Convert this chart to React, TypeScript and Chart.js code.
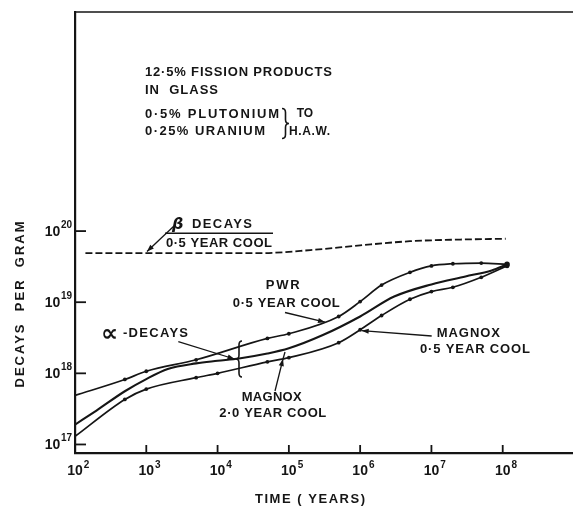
import React, { useEffect, useRef } from "react";
import { Chart, registerables } from "chart.js";

Chart.register(...registerables);

// α-decays per gram of glass vs. time (years)
const PWR_TIME = [1e2, 5e2, 1e3, 5e3, 5e4, 1e5, 5e5, 1e6, 2e6, 5e6, 1e7, 2e7, 5e7, 1.15e8];
const PWR_ALPHA = [4.9e17, 8.2e17, 1.07e18, 1.55e18, 3.1e18, 3.6e18, 6.3e18, 1.02e19, 1.74e19, 2.63e19, 3.24e19, 3.47e19, 3.55e19, 3.4e19];

const MAGNOX05_TIME = [1e2, 2e2, 5e2, 1e3, 2e3, 5e3, 1e4, 2e4, 5e4, 1e5, 3e5, 1e6, 3e6, 1e7, 3e7, 7e7, 1.15e8];
const MAGNOX05_ALPHA = [1.9e17, 3.0e17, 5.6e17, 8.3e17, 1.15e18, 1.38e18, 1.5e18, 1.62e18, 1.9e18, 2.25e18, 3.45e18, 6.3e18, 1.2e19, 1.78e19, 2.3e19, 2.8e19, 3.4e19];

const MAGNOX20_TIME = [1e2, 5e2, 1e3, 5e3, 1e4, 5e4, 1e5, 5e5, 1e6, 2e6, 5e6, 1e7, 2e7, 5e7, 1.15e8];
const MAGNOX20_ALPHA = [1.3e17, 4.3e17, 6.0e17, 8.7e17, 1.0e18, 1.45e18, 1.66e18, 2.7e18, 4.1e18, 6.5e18, 1.1e19, 1.41e19, 1.62e19, 2.24e19, 3.24e19];

// β-decays, 0.5 year cool
const BETA_TIME = [1.4e2, 1e3, 1e4, 4e4, 2e5, 1e6, 5e6, 2.5e7, 1.1e8];
const BETA_DECAYS = [4.9e19, 4.9e19, 4.9e19, 4.9e19, 5.4e19, 6.3e19, 7.2e19, 7.6e19, 7.8e19];

const X_TICKS = [1e2, 1e3, 1e4, 1e5, 1e6, 1e7, 1e8];
const Y_TICKS = [1e17, 1e18, 1e19, 1e20];
const X_MIN = 1e2;
const X_MAX = 1e9;
const Y_MIN = Math.pow(10, 16.88);
const Y_MAX = Math.pow(10, 23.08);

const FONT = "'Liberation Sans', 'DejaVu Sans', Arial, sans-serif";
const SYMBOL_FONT = "'DejaVu Sans', 'Liberation Sans', sans-serif";
const INK = "#151515";

const toPoints = (xs: number[], ys: number[]) => xs.map((x, i) => ({ x, y: ys[i] }));

// Draw text stretched to a given width by letter spacing
function fitText(ctx: CanvasRenderingContext2D, text: string, x: number, y: number, width: number, size: number, family = FONT) {
  ctx.font = `bold ${size}px ${family}`;
  (ctx as any).letterSpacing = "0px";
  const natural = ctx.measureText(text).width;
  const n = Array.from(text).length;
  const ls = n > 1 ? (width - natural) / (n - 1) : 0;
  (ctx as any).letterSpacing = `${ls}px`;
  ctx.textAlign = "left";
  ctx.textBaseline = "alphabetic";
  ctx.fillText(text, x, y);
  (ctx as any).letterSpacing = "0px";
}

function arrow(ctx: CanvasRenderingContext2D, x1: number, y1: number, x2: number, y2: number, head = true) {
  ctx.beginPath();
  ctx.moveTo(x1, y1);
  ctx.lineTo(x2, y2);
  ctx.stroke();
  if (!head) return;
  const a = Math.atan2(y2 - y1, x2 - x1);
  const L = 7;
  const W = 2.6;
  ctx.beginPath();
  ctx.moveTo(x2, y2);
  ctx.lineTo(x2 - L * Math.cos(a) + W * Math.sin(a), y2 - L * Math.sin(a) - W * Math.cos(a));
  ctx.lineTo(x2 - L * Math.cos(a) - W * Math.sin(a), y2 - L * Math.sin(a) + W * Math.cos(a));
  ctx.closePath();
  ctx.fill();
}

// Curly brace: tips at x, point at x + w (w < 0 opens to the right)
function brace(ctx: CanvasRenderingContext2D, x: number, yTop: number, yBot: number, w: number) {
  const mid = (yTop + yBot) / 2;
  const r = Math.min(4, (yBot - yTop) / 5);
  const s = x + w / 2;
  ctx.beginPath();
  ctx.moveTo(x, yTop);
  ctx.quadraticCurveTo(s, yTop, s, yTop + r);
  ctx.lineTo(s, mid - r);
  ctx.quadraticCurveTo(s, mid, x + w, mid);
  ctx.quadraticCurveTo(s, mid, s, mid + r);
  ctx.lineTo(s, yBot - r);
  ctx.quadraticCurveTo(s, yBot, x, yBot);
  ctx.stroke();
}

const decorations = {
  id: "decorations",
  afterDraw(chart: any) {
    const { ctx, chartArea, scales } = chart;
    const xs = scales.x;
    const ys = scales.y;
    ctx.save();
    ctx.strokeStyle = INK;
    ctx.fillStyle = INK;
    ctx.lineCap = "butt";

    // top frame line
    ctx.lineWidth = 1.6;
    ctx.beginPath();
    ctx.moveTo(chartArea.left, chartArea.top);
    ctx.lineTo(chartArea.right, chartArea.top);
    ctx.stroke();

    // inward tick marks and power-of-ten labels
    ctx.lineWidth = 1.8;
    X_TICKS.forEach((v) => {
      const px = xs.getPixelForValue(v);
      ctx.beginPath();
      ctx.moveTo(px, chartArea.bottom);
      ctx.lineTo(px, chartArea.bottom - 8);
      ctx.stroke();
      const exp = String(Math.round(Math.log10(v)));
      ctx.font = `bold 14px ${FONT}`;
      ctx.textAlign = "center";
      ctx.fillText("10", px, chartArea.bottom + 22);
      const w = ctx.measureText("10").width;
      ctx.font = `bold 10px ${FONT}`;
      ctx.textAlign = "left";
      ctx.fillText(exp, px + w / 2 + 1, chartArea.bottom + 15);
    });
    Y_TICKS.forEach((v) => {
      const py = ys.getPixelForValue(v);
      ctx.beginPath();
      ctx.moveTo(chartArea.left, py);
      ctx.lineTo(chartArea.left + 11, py);
      ctx.stroke();
      const exp = String(Math.round(Math.log10(v)));
      ctx.font = `bold 10px ${FONT}`;
      ctx.textAlign = "right";
      const right = chartArea.left - 3;
      ctx.fillText(exp, right, py - 3);
      const sw = ctx.measureText(exp).width;
      ctx.font = `bold 14px ${FONT}`;
      ctx.fillText("10", right - sw - 0.5, py + 5);
    });

    // axis titles
    fitText(ctx, "TIME ( YEARS)", 255, 503, 110, 13);
    ctx.save();
    ctx.translate(23.5, 304.5);
    ctx.rotate(-Math.PI / 2);
    fitText(ctx, "DECAYS  PER  GRAM", -83, 0, 166, 13);
    ctx.restore();

    // composition note
    fitText(ctx, "12·5% FISSION PRODUCTS", 145, 75.7, 187, 13);
    fitText(ctx, "IN  GLASS", 145, 94, 73, 13);
    fitText(ctx, "0·5% PLUTONIUM", 145, 118.3, 134, 13);
    fitText(ctx, "0·25% URANIUM", 145, 135, 120, 13);
    fitText(ctx, "TO", 296.7, 116.7, 16.3, 12);
    fitText(ctx, "H.A.W.", 289, 135, 41, 12);
    ctx.lineWidth = 1.6;
    brace(ctx, 282, 108.5, 138.5, 7);

    // β label
    ctx.font = `italic bold 16px ${SYMBOL_FONT}`;
    ctx.textAlign = "left";
    ctx.fillText("β", 172, 229);
    fitText(ctx, "DECAYS", 192, 228, 60, 13);
    ctx.lineWidth = 1.5;
    ctx.beginPath();
    ctx.moveTo(165, 233.3);
    ctx.lineTo(273, 233.3);
    ctx.stroke();
    fitText(ctx, "0·5 YEAR COOL", 166, 246.7, 106, 13);
    ctx.lineWidth = 1.3;
    arrow(ctx, 174, 226, 147, 251.5);

    // PWR label
    fitText(ctx, "PWR", 265.7, 289, 34, 13);
    fitText(ctx, "0·5 YEAR COOL", 232.8, 306.7, 107, 13);
    arrow(ctx, 285, 312.5, 325, 322.2);

    // α label with brace
    ctx.font = `bold 24px ${SYMBOL_FONT}`;
    ctx.textAlign = "left";
    ctx.fillText("∝", 101, 341);
    fitText(ctx, "-DECAYS", 123, 337.3, 65, 13);
    arrow(ctx, 178.3, 341.7, 234.5, 359);
    ctx.lineWidth = 1.6;
    brace(ctx, 242, 341, 377, -6);

    // Magnox 2.0 year cool
    fitText(ctx, "MAGNOX", 241.7, 400.7, 60, 13);
    fitText(ctx, "2·0 YEAR COOL", 219.3, 417.3, 107, 13);
    ctx.lineWidth = 1.3;
    arrow(ctx, 275, 391, 283, 359);
    ctx.beginPath();
    ctx.moveTo(283, 359);
    ctx.lineTo(285, 352);
    ctx.stroke();

    // Magnox 0.5 year cool
    fitText(ctx, "MAGNOX", 436.7, 336.7, 63.3, 13);
    fitText(ctx, "0·5 YEAR COOL", 420, 352.7, 110, 13);
    arrow(ctx, 431.7, 336, 361.7, 330.7);

    ctx.restore();
  },
};

const dots = (n: number, end: number) => Array.from({ length: n }, (_, i) => (i === 0 ? 0 : i === n - 1 ? end : 1.9));

export default function App() {
  const ref = useRef<HTMLCanvasElement>(null);

  useEffect(() => {
    const chart = new Chart(ref.current as HTMLCanvasElement, {
      type: "line",
      data: {
        datasets: [
          {
            label: "β decays, 0·5 year cool",
            data: toPoints(BETA_TIME, BETA_DECAYS),
            borderColor: INK,
            borderWidth: 1.8,
            borderDash: [7, 3],
            pointRadius: 0,
            cubicInterpolationMode: "monotone",
          },
          {
            label: "PWR 0·5 year cool",
            data: toPoints(PWR_TIME, PWR_ALPHA),
            borderColor: INK,
            borderWidth: 1.7,
            pointRadius: dots(PWR_TIME.length, 2.8),
            pointBackgroundColor: INK,
            pointBorderWidth: 0,
            cubicInterpolationMode: "monotone",
          },
          {
            label: "Magnox 0·5 year cool",
            data: toPoints(MAGNOX05_TIME, MAGNOX05_ALPHA),
            borderColor: INK,
            borderWidth: 2.1,
            pointRadius: 0,
            cubicInterpolationMode: "monotone",
          },
          {
            label: "Magnox 2·0 year cool",
            data: toPoints(MAGNOX20_TIME, MAGNOX20_ALPHA),
            borderColor: INK,
            borderWidth: 1.7,
            pointRadius: dots(MAGNOX20_TIME.length, 2.4),
            pointBackgroundColor: INK,
            pointBorderWidth: 0,
            cubicInterpolationMode: "monotone",
          },
        ],
      },
      options: {
        responsive: false,
        animation: false,
        devicePixelRatio: 1,
        layout: { padding: { left: 0, top: 12, right: 2.5, bottom: 0 } },
        plugins: { legend: { display: false }, tooltip: { enabled: false } },
        events: [],
        scales: {
          x: {
            type: "logarithmic",
            position: "bottom",
            min: X_MIN,
            max: X_MAX,
            grid: { display: false },
            border: { display: true, color: INK, width: 2.2 },
            ticks: { display: false },
            afterFit: (s: any) => {
              s.height = 53;
            },
          },
          y: {
            type: "logarithmic",
            position: "left",
            min: Y_MIN,
            max: Y_MAX,
            grid: { display: false },
            border: { display: true, color: INK, width: 2.2 },
            ticks: { display: false },
            afterFit: (s: any) => {
              s.width = 75;
            },
          },
        },
      } as any,
      plugins: [decorations],
    });
    return () => chart.destroy();
  }, []);

  return (
    <div
      style={{
        position: "fixed",
        left: 0,
        top: 0,
        width: 573,
        height: 506,
        overflow: "hidden",
        background: "#ffffff",
      }}
    >
      <canvas ref={ref} width={578} height={506} style={{ display: "block", width: 578, height: 506 }} />
    </div>
  );
}
